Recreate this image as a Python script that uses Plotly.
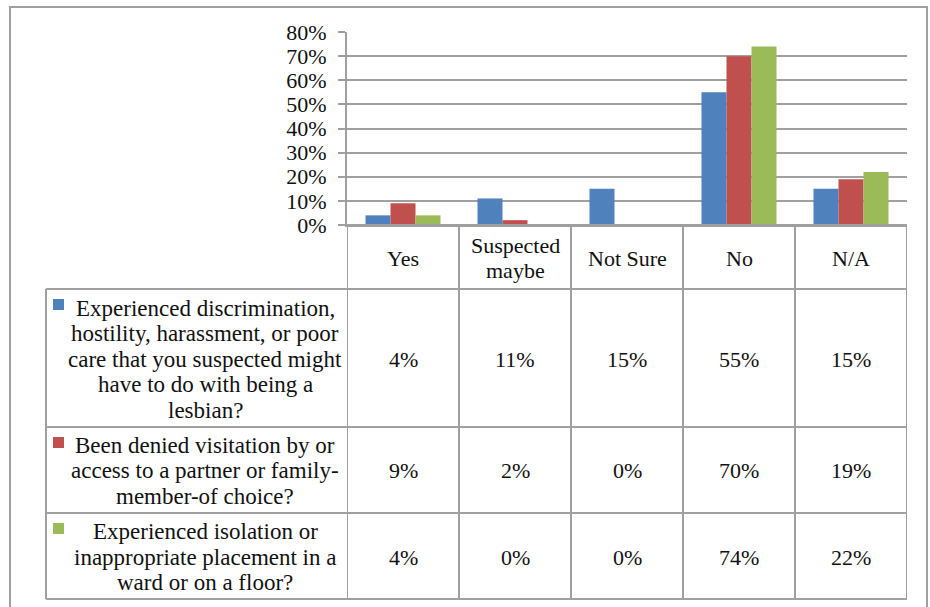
import plotly.graph_objects as go

# ---------------- data ----------------
categories = ["Yes", "Suspected maybe", "Not Sure", "No", "N/A"]
header_labels = [["Yes"], ["Suspected", "maybe"], ["Not Sure"], ["No"], ["N/A"]]
series_names = [
    ["Experienced discrimination,", "hostility, harassment, or poor",
     "care that you suspected might", "have to do with being a", "lesbian?"],
    ["Been denied visitation by or", "access to a partner or family-",
     "member-of choice?"],
    ["Experienced isolation or", "inappropriate placement in a",
     "ward or on a floor?"],
]
discrimination = [4, 11, 15, 55, 15]
denied_visitation = [9, 2, 0, 70, 19]
isolation = [4, 0, 0, 74, 22]
series_values = [discrimination, denied_visitation, isolation]
colors = ["#4F81BD", "#C0504D", "#9BBB59"]
y_ticks = [0, 10, 20, 30, 40, 50, 60, 70, 80]
y_tick_labels = [f"{t}%" for t in y_ticks]

# ---------------- layout geometry (pixels) ----------------
W, H = 930, 607
def fx(x):
    return x / W
def fy(y):
    return 1 - y / H

plot_left, plot_right = 347, 907
plot_top, plot_bottom = 32, 225
table_left = 46
row_edges = [225, 289, 427, 513, 599]  # header, row1, row2, row3
line_color = "#A0A0A0"
text_color = "#111111"
FONT = "Liberation Serif"
FS = 22
FS_NAME = 23
LINE_H = 25.5

fig = go.Figure()
for name, vals, col in zip(series_names, series_values, colors):
    fig.add_trace(go.Bar(
        x=categories, y=[v / 100 for v in vals], name=" ".join(name),
        marker=dict(color=col, line=dict(width=0)),
        showlegend=False, hoverinfo="skip",
    ))

shapes = []
annotations = []

def add_lines(lines, x, xref, cy, size):
    n = len(lines)
    for i, t in enumerate(lines):
        y = cy + (i - (n - 1) / 2) * LINE_H
        annotations.append(dict(x=x, xref=xref, y=fy(y), yref="paper",
                                text=t, showarrow=False,
                                font=dict(family=FONT, size=size, color=text_color),
                                xanchor="center", yanchor="middle"))

# outer frame
shapes.append(dict(type="rect", xref="paper", yref="paper",
                   x0=fx(10), x1=fx(927), y0=fy(620), y1=fy(7),
                   line=dict(color=line_color, width=2)))

# table vertical lines at category boundaries (axis coordinates)
for i in range(len(categories) + 1):
    b = i - 0.5
    shapes.append(dict(type="line", xref="x", yref="paper",
                       x0=b, x1=b, y0=fy(row_edges[-1]), y1=fy(row_edges[0]),
                       line=dict(color=line_color, width=2)))
# left edge of legend column
shapes.append(dict(type="line", xref="paper", yref="paper",
                   x0=fx(table_left), x1=fx(table_left),
                   y0=fy(row_edges[-1]), y1=fy(row_edges[1]),
                   line=dict(color=line_color, width=2)))
# horizontal row lines
for k, ry in enumerate(row_edges):
    x0 = fx(plot_left) if k == 0 else fx(table_left)
    shapes.append(dict(type="line", xref="paper", yref="paper",
                       x0=x0, x1=fx(plot_right), y0=fy(ry), y1=fy(ry),
                       line=dict(color=line_color, width=2)))

# header labels
hdr_center = (row_edges[0] + row_edges[1]) / 2 + 1
for cat, lab in zip(categories, header_labels):
    add_lines(lab, cat, "x", hdr_center, FS)

# rows: legend key, series name, values
for r, (name, vals, col) in enumerate(zip(series_names, series_values, colors)):
    top, bot = row_edges[r + 1], row_edges[r + 2]
    cy = (top + bot) / 2 + 1
    shapes.append(dict(type="rect", xref="paper", yref="paper",
                       x0=fx(53), x1=fx(64), y0=fy(top + 21), y1=fy(top + 10),
                       fillcolor=col, line=dict(width=0)))
    add_lines(name, fx(205), "paper", cy, FS_NAME)
    for cat, v in zip(categories, vals):
        add_lines([f"{v}%"], cat, "x", cy, FS)

fig.update_layout(
    width=W, height=H,
    margin=dict(l=0, r=0, t=0, b=0, pad=0, autoexpand=False),
    paper_bgcolor="white", plot_bgcolor="white",
    barmode="group", bargap=0.33, bargroupgap=0,
    shapes=shapes, annotations=annotations,
    xaxis=dict(domain=[fx(plot_left), fx(plot_right)], range=[-0.5, 4.5],
               showticklabels=False, ticks="", showgrid=False, zeroline=False,
               automargin=False,
               showline=True, linecolor=line_color, linewidth=2, fixedrange=True),
    yaxis=dict(domain=[fy(plot_bottom), fy(plot_top)], range=[0, 0.8],
               tickvals=[t / 100 for t in y_ticks], ticktext=y_tick_labels,
               ticks="outside", ticklen=7, tickcolor=line_color, tickwidth=2,
               showgrid=True, gridcolor=line_color, gridwidth=2,
               zeroline=False, showline=True, linecolor=line_color, linewidth=2,
               automargin=False,
               tickfont=dict(family=FONT, size=FS, color=text_color),
               ticklabelstandoff=7, fixedrange=True),
)

fig.write_html("out.html", config={"displayModeBar": False},
               post_script="document.body.style.margin='0';")
